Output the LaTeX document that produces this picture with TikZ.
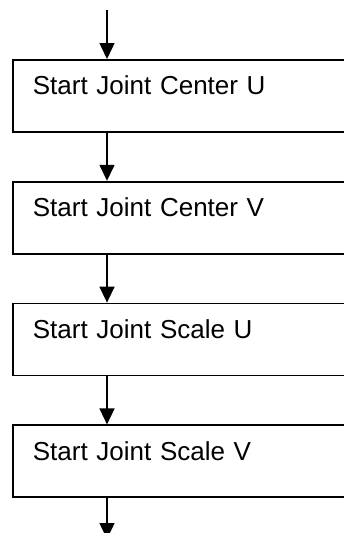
\documentclass[tikz,border=0pt]{standalone}
\usepackage{fontspec}
\setmainfont{Liberation Sans}
\usetikzlibrary{arrows.meta,positioning}

\tikzset{
  stepbox/.style={draw, line width=1.8pt, anchor=north west, minimum width=334pt,
    text width=294pt, inner xsep=20pt, inner ysep=0pt, text height=35pt,
    text depth=37pt, align=left, font=\fontsize{26}{30}\selectfont},
  flow/.style={->, line width=1.5pt},
}

\begin{document}
\begin{tikzpicture}[>={Triangle[length=16pt,width=15pt]}, x=1pt, y=1pt, node distance=48pt]
  \useasboundingbox (0,0) rectangle (344,-533);
  \clip (0,0) rectangle (344,-533);
  \node[stepbox] (cu) at (12,-59) {Start Joint Center U};
  \node[stepbox, below=of cu] (cv) {Start Joint Center V};
  \node[stepbox, below=of cv] (su) {Start Joint Scale U};
  \node[stepbox, below=of su] (sv) {Start Joint Scale V};
  \coordinate (in) at (107,-10);
  \coordinate (out) at (107,-539);
  \draw[flow] (in) -- ([xshift=95pt]cu.north west);
  \draw[flow] ([xshift=95pt]cu.south west) -- ([xshift=95pt]cv.north west);
  \draw[flow] ([xshift=95pt]cv.south west) -- ([xshift=95pt]su.north west);
  \draw[flow] ([xshift=95pt]su.south west) -- ([xshift=95pt]sv.north west);
  \draw[flow] ([xshift=95pt]sv.south west) -- (out);
\end{tikzpicture}
\end{document}
